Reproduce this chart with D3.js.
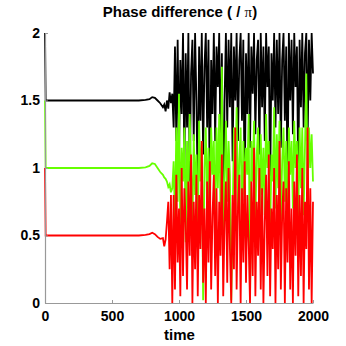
<!DOCTYPE html>
<html><head><meta charset="utf-8">
<script src="https://cdn.jsdelivr.net/npm/d3@7"></script>
<style>html,body{margin:0;padding:0;background:#fff;}</style>
</head><body><svg id="c" width="346" height="346"></svg>
<script>
const times = [0,5,100,200,300,400,500,600,700,750,780,800,820,840,860,880,890,900,910,920,930,940,
950,960,970,980,990,1000,1010,1020,1030,1040,1050,1060,1070,1080,1090,1100,1110,1120,1130,1140,
1150,1160,1170,1180,1190,1200,1210,1220,1230,1240,1250,1260,1270,1280,1290,1300,1310,1320,1330,1340,
1350,1360,1370,1380,1390,1400,1410,1420,1430,1440,1450,1460,1470,1480,1490,1500,1510,1520,1530,1540,
1550,1560,1570,1580,1590,1600,1610,1620,1630,1640,1650,1660,1670,1680,1690,1700,1710,1720,1730,1740,
1750,1760,1770,1780,1790,1800,1810,1820,1830,1840,1850,1860,1870,1880,1890,1900,1910,1920,1930,1940,
1950,1960,1970,1980,1990,2000];
const blackSeries = [2,1.5,1.5,1.5,1.5,1.5,1.5,1.5,1.5,1.505,1.51,1.525,1.52,1.5,1.48,1.45,1.47,1.42,1.5,1.44,1.56,1.48,
1.55,1.3,1.9,1.2,1.95,1.1,1.8,1.4,2.0,1.0,1.85,1.3,2.0,0.9,1.7,1.95,1.2,2.0,1.5,0.8,
1.9,1.35,2.0,1.1,1.75,2.0,1.3,1.95,0.7,1.8,1.4,2.0,1.2,1.9,1.6,2.0,1.1,1.85,0.5,1.5,
2.0,1.3,1.95,1.45,2.0,1.05,1.9,1.5,2.0,1.2,1.8,2.0,1.35,1.95,0.75,1.85,1.4,2.0,1.15,1.9,
1.55,2.0,1.25,1.8,1.95,1.1,2.0,1.45,1.9,1.2,2.0,1.6,1.9,0.8,1.85,1.5,2.0,1.3,1.95,1.4,
2.0,1.15,1.8,2.0,1.35,1.9,0.85,2.0,1.5,1.95,1.25,2.0,1.6,1.9,0.9,1.95,1.45,2.0,1.3,1.85,
2.0,1.2,1.95,1.5,2.0,1.7];
const greenSeries = [1.5,1.0,1.0,1.0,1.0,1.0,1.0,1.0,1.0,1.005,1.015,1.035,1.03,1.0,0.97,0.95,0.93,0.92,0.9,0.86,0.88,0.82,
0.85,1.05,0.6,1.3,0.75,1.55,0.5,1.15,0.9,1.3,0.45,1.2,0.7,1.4,1.0,0.55,1.25,0.8,1.1,0.4,
1.35,0.9,1.2,0.02,1.0,1.3,0.7,1.15,0.6,1.3,0.95,1.2,0.55,1.3,0.85,1.4,0.65,1.75,0.4,0.9,
1.35,0.75,1.2,0.95,0.02,0.6,1.3,0.85,1.45,0.7,1.05,1.3,0.55,1.2,0.8,1.15,0.95,1.4,0.02,1.2,
0.9,1.35,0.6,1.1,1.3,0.5,1.25,0.8,1.15,0.65,1.4,1.0,1.2,0.5,1.1,0.9,1.45,0.7,1.25,0.85,
1.35,0.6,1.05,1.3,0.75,1.2,0.55,1.3,0.95,1.2,0.7,1.35,1.0,1.2,0.6,1.3,0.85,1.3,0.65,1.15,
1.7,0.8,1.3,1.0,1.25,0.9];
const redSeries = [1.0,0.5,0.5,0.5,0.5,0.5,0.5,0.5,0.5,0.505,0.51,0.52,0.51,0.49,0.475,0.48,0.42,0.47,0.6,0.75,0.25,0.8,
0.0,0.8,0.1,0.95,0.3,0.7,0.05,1.0,0.2,0.85,0.6,0.1,0.9,0.35,1.1,0.0,0.75,0.25,0.95,0.05,
0.8,0.4,1.2,0.15,0.7,0.0,0.9,0.3,1.05,0.1,0.65,0.95,0.2,0.85,0.0,0.75,0.35,1.1,0.05,0.6,
0.9,0.15,1.0,0.4,0.0,0.8,0.25,1.3,0.1,0.7,0.95,0.0,0.85,0.3,1.05,0.15,0.8,0.45,0.0,0.9,
0.2,1.15,0.05,0.75,0.35,1.0,0.1,0.85,0.0,0.6,0.95,0.2,1.1,0.05,0.7,0.4,1.0,0.0,0.8,0.25,
1.2,0.1,0.65,0.9,0.0,0.85,0.3,1.05,0.1,0.7,0.0,0.9,0.35,1.1,0.05,0.8,0.2,1.0,0.0,0.75,
0.4,1.3,0.1,0.85,0.0,0.75];
const xTicks = [0,500,1000,1500,2000];
const yTicks = [0,0.5,1,1.5,2];
const yTickLabels = ["0","0.5","1","1.5","2"];
const titleMain = "Phase difference ( / ";
const titlePi = "\u03c0";
const titleEnd = ")";
const xLabel = "time";

const svg = d3.select("#c");
const L=45,R=313,T=33,B=303;
const x = d3.scaleLinear().domain([0,2000]).range([L,R]);
const y = d3.scaleLinear().domain([0,2]).range([B,T]);
const font = "'Liberation Sans',Arial,sans-serif";

const series = [{v:blackSeries,c:"#000000"},{v:greenSeries,c:"#66ff00"},{v:redSeries,c:"#ff0000"}];
const line = d3.line().x((d,i)=>x(times[i])).y(d=>y(d));
series.forEach(s=>{
  svg.append("path").attr("d",line(s.v)).attr("fill","none").attr("stroke",s.c)
    .attr("stroke-width",1.8).attr("stroke-linejoin","miter");
});

const xAxis = svg.append("g").attr("transform",`translate(0,${B})`)
  .call(d3.axisBottom(x).tickValues(xTicks).tickFormat(d3.format("d")).tickSizeInner(-3).tickSizeOuter(0).tickPadding(8));
const yAxis = svg.append("g").attr("transform",`translate(${L},0)`)
  .call(d3.axisLeft(y).tickValues(yTicks).tickFormat((d,i)=>yTickLabels[i]).tickSizeInner(-3).tickSizeOuter(0).tickPadding(5));
[xAxis,yAxis].forEach(a=>{
  a.select(".domain").attr("stroke","#999").attr("stroke-width",1.2);
  a.selectAll(".tick line").attr("stroke","#999");
  a.selectAll("text").attr("font-family",font).attr("font-weight","bold").attr("font-size",14).attr("fill","#000");
});

const t = svg.append("text").attr("x",180).attr("y",17).attr("text-anchor","middle")
  .attr("font-family",font).attr("font-weight","bold").attr("font-size",15);
t.append("tspan").text(titleMain);
t.append("tspan").attr("font-family","'Liberation Serif',serif").attr("font-weight","normal").text(titlePi);
t.append("tspan").text(titleEnd);
svg.append("text").attr("x",179.5).attr("y",340).attr("text-anchor","middle")
  .attr("font-family",font).attr("font-weight","bold").attr("font-size",15).text(xLabel);
</script></body></html>
